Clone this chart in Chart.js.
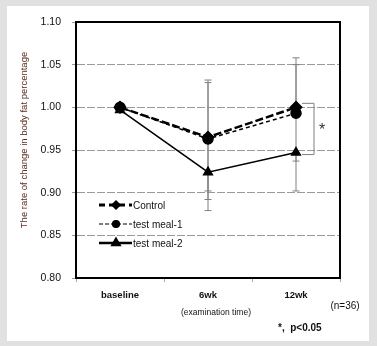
<!DOCTYPE html>
<html lang="en">
  <head>
    <meta charset="UTF-8" />
    <title>Body fat percentage</title>
    <style>
      html, body { margin: 0; padding: 0; background: #e1e1e1; }
      #wrap { width: 377px; height: 346px; }
    </style>
  </head>
  <body>
    <script src="https://cdn.jsdelivr.net/npm/chart.js"></script>
    <div id="wrap"><canvas id="line-chart" width="377" height="346"></canvas></div>

    <script>
      const categories = ['baseline', '6wk', '12wk']
      const control = [1.0, 0.965, 1.0]
      const meal1 = [1.0, 0.963, 0.993]
      const meal2 = [0.997, 0.924, 0.947]

      // error bar ends (null = not shown)
      const controlHi = [null, 1.032, 1.058]
      const controlLo = [null, 0.902, 0.902]
      const meal1Hi = [null, 1.029, 1.05]
      const meal1Lo = [null, 0.892, null]
      const meal2Hi = [null, null, null]
      const meal2Lo = [null, 0.879, 0.937]

      const yTicks = [0.8, 0.85, 0.9, 0.95, 1.0, 1.05, 1.1]

      const errs = [
        { hi: controlHi, lo: controlLo, v: control },
        { hi: meal1Hi, lo: meal1Lo, v: meal1 },
        { hi: meal2Hi, lo: meal2Lo, v: meal2 },
      ]

      const font = 'Liberation Sans'

      const decor = {
        id: 'decor',
        beforeDraw(chart) {
          const ctx = chart.ctx
          ctx.save()
          ctx.fillStyle = '#e1e1e1'
          ctx.fillRect(0, 0, chart.width, chart.height)
          ctx.fillStyle = '#ffffff'
          ctx.fillRect(7, 6, 362, 335)
          ctx.restore()
        },
        beforeDatasetsDraw(chart) {
          const ctx = chart.ctx
          const x = chart.scales.x
          const y = chart.scales.y
          ctx.save()
          ctx.strokeStyle = '#808080'
          ctx.lineWidth = 1
          errs.forEach((e) => {
            e.v.forEach((val, i) => {
              const px = x.getPixelForValue(i)
              ;[e.hi[i], e.lo[i]].forEach((end) => {
                if (end == null) return
                const p0 = y.getPixelForValue(val)
                const p1 = y.getPixelForValue(end)
                ctx.beginPath()
                ctx.moveTo(px, p0)
                ctx.lineTo(px, p1)
                ctx.moveTo(px - 3.5, p1)
                ctx.lineTo(px + 3.5, p1)
                ctx.stroke()
              })
            })
          })
          // significance bracket between control and test meal-2 at 12wk
          const bx = x.getPixelForValue(2)
          const yTop = y.getPixelForValue(control[2]) - 4
          const yBot = y.getPixelForValue(meal2[2]) + 2
          ctx.beginPath()
          ctx.moveTo(bx + 6, yTop)
          ctx.lineTo(bx + 18, yTop)
          ctx.lineTo(bx + 18, yBot)
          ctx.lineTo(bx + 6, yBot)
          ctx.stroke()
          ctx.fillStyle = '#333'
          ctx.font = '16px "' + font + '"'
          ctx.textAlign = 'center'
          ctx.textBaseline = 'middle'
          ctx.fillText('*', bx + 26, (yTop + yBot) / 2 + 2)
          ctx.restore()
        },
        afterDatasetsDraw(chart) {
          const ctx = chart.ctx
          const a = chart.chartArea
          ctx.save()
          ctx.strokeStyle = '#000'
          ctx.lineWidth = 2
          ctx.strokeRect(a.left, a.top, a.right - a.left, a.bottom - a.top)

          // legend inside the plot
          const rows = [205, 224, 243]
          chart.data.datasets.slice().reverse().forEach((ds, k) => {
            const ly = rows[k]
            ctx.strokeStyle = '#000'
            ctx.lineWidth = ds.legendWidth
            ctx.setLineDash(ds.legendDash || [])
            ctx.beginPath()
            ctx.moveTo(a.left + 23, ly)
            ctx.lineTo(a.left + 56, ly)
            ctx.stroke()
            ctx.setLineDash([])
            ctx.fillStyle = '#000'
            Chart.helpers.drawPoint(
              ctx,
              { pointStyle: ds.pointStyle, radius: ds.legendRadius, rotation: 0, borderWidth: 1 },
              a.left + 40,
              ly
            )
            ctx.fillStyle = '#111'
            ctx.font = '10px "' + font + '"'
            ctx.textAlign = 'left'
            ctx.textBaseline = 'middle'
            ctx.fillText(ds.label, a.left + 57, ly + 1)
          })

          // axis texts and notes
          ctx.fillStyle = '#111'
          ctx.font = '8.5px "' + font + '"'
          ctx.textAlign = 'center'
          ctx.textBaseline = 'middle'
          ctx.fillText('(examination time)', chart.scales.x.getPixelForValue(1) + 8, 313)
          ctx.font = '10px "' + font + '"'
          ctx.fillText('(n=36)', 345, 306)
          ctx.font = 'bold 10px "' + font + '"'
          ctx.textAlign = 'left'
          ctx.fillText('*,  p<0.05', 278, 328)

          ctx.translate(24, 140)
          ctx.rotate(-Math.PI / 2)
          ctx.fillStyle = '#5a2c1e'
          ctx.font = '9.5px "' + font + '"'
          ctx.textAlign = 'center'
          ctx.fillText('The rate of change in body fat percentage', 0, 0)
          ctx.restore()
        },
      }

      new Chart(document.getElementById('line-chart'), {
        type: 'line',
        data: {
          labels: categories,
          datasets: [
            {
              label: 'test meal-2',
              data: meal2,
              borderColor: '#000',
              backgroundColor: '#000',
              borderWidth: 1.5,
              pointStyle: 'triangle',
              pointRadius: 5,
              legendWidth: 2.5,
              legendRadius: 4,
            },
            {
              label: 'test meal-1',
              data: meal1,
              borderColor: '#000',
              backgroundColor: '#000',
              borderWidth: 1.5,
              borderDash: [4, 3],
              pointStyle: 'circle',
              pointRadius: 5,
              legendWidth: 1.2,
              legendDash: [4, 2],
              legendRadius: 3.5,
            },
            {
              label: 'Control',
              data: control,
              borderColor: '#000',
              backgroundColor: '#000',
              borderWidth: 2.5,
              borderDash: [8, 3],
              pointStyle: 'rectRot',
              pointRadius: 5,
              legendWidth: 3,
              legendDash: [6, 4],
              legendRadius: 3,
            },
          ],
        },
        options: {
          responsive: false,
          animation: false,
          layout: { padding: { left: 10, right: 37, top: 22, bottom: 18 } },
          plugins: {
            legend: { display: false },
            tooltip: { enabled: false },
          },
          scales: {
            x: {
              type: 'category',
              offset: true,
              grid: {
                offset: true,
                drawOnChartArea: false,
                tickLength: 4,
                color: '#aaa',
              },
              border: { color: '#000', width: 2 },
              ticks: {
                padding: 8,
                color: '#111',
                font: { family: font, size: 9.5, weight: 'bold' },
              },
              afterFit(s) {
                s.height = 50
              },
            },
            y: {
              min: 0.8,
              max: 1.1,
              afterBuildTicks(s) {
                s.ticks = yTicks.map((v) => ({ value: v }))
              },
              grid: {
                color: '#9a9a9a',
                lineWidth: 1,
                tickLength: 4,
              },
              border: { color: '#000', width: 2, dash: [8, 2] },
              ticks: {
                padding: 11,
                color: '#111',
                font: { family: font, size: 10.5 },
                callback: (v) => Number(v).toFixed(2),
              },
              afterFit(s) {
                s.width = 66
              },
            },
          },
        },
        plugins: [decor],
      })
    </script>
  </body>
</html>
